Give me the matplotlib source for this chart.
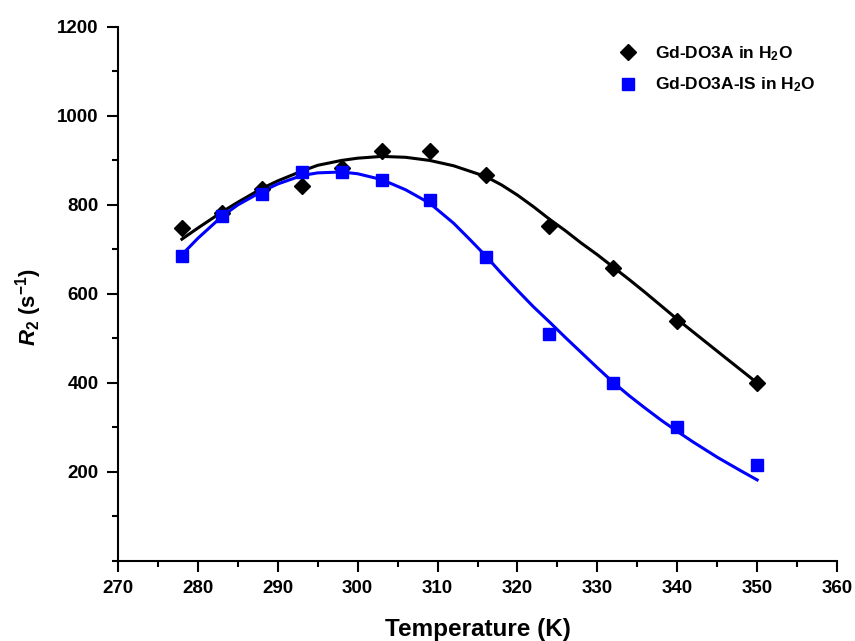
import matplotlib
matplotlib.use("Agg")
import matplotlib.pyplot as plt
from matplotlib.ticker import MultipleLocator

# Measured data
temp = [278, 283, 288, 293, 298, 303, 309, 316, 324, 332, 340, 350]
r2_do3a = [748, 781, 835, 843, 883, 922, 921, 868, 752, 658, 540, 400]
r2_do3a_is = [685, 775, 825, 875, 873, 855, 812, 683, 510, 400, 300, 215]

# Fitted curves
fit_t_a = [278, 280, 283, 285, 288, 290, 293, 295, 298, 300, 303, 306, 309, 312, 316,
           318, 320, 322, 324, 326, 328, 330, 332, 334, 336, 338, 340, 343, 346, 350]
fit_a = [723, 748, 784, 806, 837, 854, 876, 889, 900, 905, 909, 907, 900, 888, 864,
         845, 822, 796, 768, 742, 714, 688, 660, 632, 603, 573, 543, 500, 457, 400]
fit_t_b = [278, 280, 283, 285, 288, 290, 293, 295, 298, 300, 303, 306, 309, 312, 314,
           316, 318, 320, 322, 324, 326, 328, 330, 332, 334, 336, 338, 340, 342, 345, 348, 350]
fit_b = [688, 725, 774, 800, 830, 847, 866, 872, 874, 870, 857, 834, 804, 759, 723,
         686, 646, 608, 571, 537, 502, 468, 434, 401, 371, 343, 316, 291, 267, 233, 202, 182]

xticks = [270, 280, 290, 300, 310, 320, 330, 340, 350, 360]
yticks = [200, 400, 600, 800, 1000, 1200]

plt.rcParams['font.family'] = ['Liberation Sans', 'DejaVu Sans']
plt.rcParams['mathtext.fontset'] = 'custom'
plt.rcParams['mathtext.rm'] = 'Liberation Sans:bold'
plt.rcParams['mathtext.bf'] = 'Liberation Sans:bold'
plt.rcParams['mathtext.it'] = 'Liberation Sans:italic:bold'
plt.rcParams['mathtext.default'] = 'bf'

fig = plt.figure(figsize=(8.55, 6.41), dpi=100)
ax = fig.add_axes([0.138, 0.125, 0.841, 0.833])

ax.plot(fit_t_a, fit_a, color='black', lw=2.2, zorder=2)
ax.plot(fit_t_b, fit_b, color='#0000ff', lw=2.2, zorder=2)
ax.plot(temp, r2_do3a, linestyle='none', marker='D', color='black', markersize=8,
        label='Gd-DO3A in H$_2$O', zorder=3)
ax.plot(temp, r2_do3a_is, linestyle='none', marker='s', color='#0000ff', markersize=8,
        label='Gd-DO3A-IS in H$_2$O', zorder=3)

ax.set_xlim(270, 360)
ax.set_ylim(0, 1200)
ax.set_xticks(xticks)
ax.set_yticks(yticks)
ax.xaxis.set_minor_locator(MultipleLocator(5))
ax.yaxis.set_minor_locator(MultipleLocator(100))
ax.spines['top'].set_visible(False)
ax.spines['right'].set_visible(False)
for s in ['left', 'bottom']:
    ax.spines[s].set_linewidth(1.5)
ax.tick_params(which='major', direction='out', length=8, width=1.5, labelsize=13.5, pad=6)
ax.tick_params(which='minor', direction='out', length=4.5, width=1.5)
for lab in ax.get_xticklabels() + ax.get_yticklabels():
    lab.set_fontweight('bold')

ax.set_xlabel('Temperature (K)', fontsize=17.5, fontweight='bold', va='center')
ax.xaxis.set_label_coords(0.5, -0.128)
fig.text(0.033, 0.521, r'$\mathit{R}_2$ (s$^{-1}$)', rotation=90,
         fontsize=16, fontweight='bold', ha='center', va='center')

leg = ax.legend(loc='upper left', bbox_to_anchor=(0.697, 0.967), frameon=False,
                prop={'weight': 'bold', 'size': 12.5}, handletextpad=1.05,
                labelspacing=0.72, handlelength=1.0, borderpad=0, borderaxespad=0)

fig.savefig('out.png', dpi=100)
